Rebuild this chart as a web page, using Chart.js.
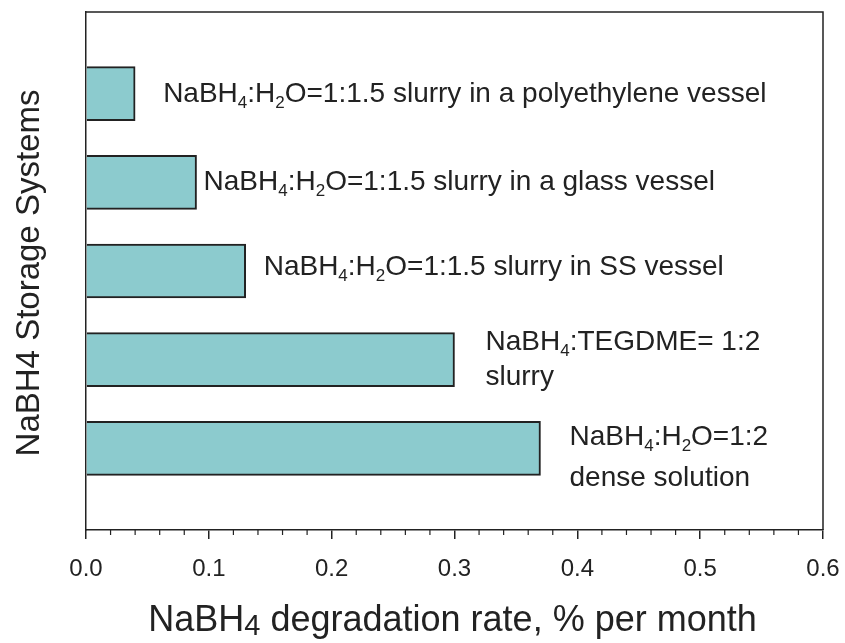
<!DOCTYPE html>
<html>
<head>
<meta charset="utf-8">
<script src="https://cdn.jsdelivr.net/npm/chart.js@4"></script>
<style>
  html, body { margin: 0; padding: 0; background: #fff; }
  #wrap { width: 845px; height: 643px; }
</style>
</head>
<body>
<div id="wrap"><canvas id="rateChart" width="845" height="643"></canvas></div>
<script>
// storage systems, top to bottom; "_n" marks a subscript digit
const systems = [
  ['NaBH_4:H_2O=1:1.5 slurry in a polyethylene vessel'],
  ['NaBH_4:H_2O=1:1.5 slurry in a glass vessel'],
  ['NaBH_4:H_2O=1:1.5 slurry in SS vessel'],
  ['NaBH_4:TEGDME= 1:2', 'slurry'],
  ['NaBH_4:H_2O=1:2', 'dense solution']
];
const slots = [1, 2, 3, 4, 5];
const rates = [0.04, 0.09, 0.13, 0.30, 0.37];   // % per month

// where each note sits relative to the end of its bar (px)
const noteDx = [28, 7, 18, 31, 29];
const noteDy = [1, 0, -4, -17, -11];
const noteGap = [0, 0, 0, 35, 41];

const INK = '#222';
const FONT = '"Liberation Sans", Arial, sans-serif';

function drawRich(ctx, text, x, y, size, subScale, subDrop) {
  const parts = text.split(/(_\d)/).filter(s => s.length);
  let cx = x;
  ctx.textBaseline = 'middle';
  ctx.textAlign = 'left';
  parts.forEach(p => {
    if (p[0] === '_') {
      ctx.font = Math.round(size * subScale) + 'px ' + FONT;
      ctx.fillText(p.slice(1), cx, y + subDrop);
      cx += ctx.measureText(p.slice(1)).width;
    } else {
      ctx.font = size + 'px ' + FONT;
      ctx.fillText(p, cx, y);
      cx += ctx.measureText(p).width;
    }
  });
  return cx - x;
}

function richWidth(ctx, text, size, subScale) {
  let w = 0;
  text.split(/(_\d)/).filter(s => s.length).forEach(p => {
    if (p[0] === '_') {
      ctx.font = Math.round(size * subScale) + 'px ' + FONT;
      w += ctx.measureText(p.slice(1)).width;
    } else {
      ctx.font = size + 'px ' + FONT;
      w += ctx.measureText(p).width;
    }
  });
  return w;
}

const frame = {
  id: 'frame',
  afterDraw(chart) {
    const { ctx, chartArea: a, scales } = chart;
    const xs = scales.x, ys = scales.y;
    ctx.save();
    ctx.strokeStyle = INK;
    ctx.lineWidth = 1.5;
    // top and right edges of the box
    ctx.beginPath();
    ctx.moveTo(a.left, a.top);
    ctx.lineTo(a.right, a.top);
    ctx.lineTo(a.right, a.bottom);
    ctx.stroke();
    // minor ticks every 0.02
    ctx.lineWidth = 1.2;
    for (let i = 1; i < 30; i++) {
      if (i % 5 === 0) continue;
      const px = xs.getPixelForValue(i * 0.02);
      ctx.beginPath();
      ctx.moveTo(px, a.bottom);
      ctx.lineTo(px, a.bottom + 5);
      ctx.stroke();
    }
    // notes beside the bars
    ctx.fillStyle = INK;
    systems.forEach((lines, i) => {
      const x0 = xs.getPixelForValue(rates[i]) + noteDx[i];
      const y0 = ys.getPixelForValue(slots[i]) + noteDy[i];
      lines.forEach((t, k) => {
        drawRich(ctx, t, x0, y0 + k * noteGap[i], 28, 0.62, 9);
      });
    });
    // axis titles
    const xt = 'NaBH_4 degradation rate, % per month';
    const xw = richWidth(ctx, xt, 36, 0.8);
    drawRich(ctx, xt, (a.left + a.right) / 2 - xw / 2 - 2, 621, 36, 0.8, 6);
    ctx.save();
    ctx.translate(30, (a.top + a.bottom) / 2 + 2);
    ctx.rotate(-Math.PI / 2);
    ctx.font = '33px ' + FONT;
    ctx.textAlign = 'center';
    ctx.textBaseline = 'middle';
    ctx.fillText('NaBH4 Storage Systems', 0, 0);
    ctx.restore();
    ctx.restore();
  }
};

const barConfig = {
  type: 'bar',
  data: {
    datasets: [{
      data: rates.map((r, i) => ({ x: r, y: slots[i] })),
      backgroundColor: '#8ccbce',
      borderColor: INK,
      borderWidth: 2,
      barThickness: 54
    }]
  },
  options: {
    indexAxis: 'y',
    responsive: false,
    animation: false,
    layout: { padding: { top: 12, right: 22, left: 0, bottom: 0 } },
    plugins: {
      legend: { display: false },
      tooltip: { enabled: false }
    },
    scales: {
      x: {
        type: 'linear',
        min: 0,
        max: 0.6,
        afterFit(scale) {
          scale.height = 113;
          scale.paddingLeft = 0;
          scale.paddingRight = 0;
        },
        border: { display: true, color: INK, width: 1.5 },
        grid: { drawOnChartArea: false, drawTicks: true, tickLength: 9, color: INK, lineWidth: 1.5 },
        ticks: {
          stepSize: 0.1,
          padding: 16,
          color: INK,
          font: { family: FONT, size: 24 },
          callback: v => v.toFixed(1)
        }
      },
      y: {
        type: 'linear',
        reverse: true,
        offset: false,
        min: 0.08,
        max: 5.92,
        afterFit(scale) { scale.width = 86; },
        border: { display: true, color: INK, width: 1.5 },
        grid: { display: false },
        ticks: { display: false }
      }
    }
  },
  plugins: [frame]
};

const rateChart = new Chart(document.getElementById('rateChart'), barConfig);
</script>
</body>
</html>
